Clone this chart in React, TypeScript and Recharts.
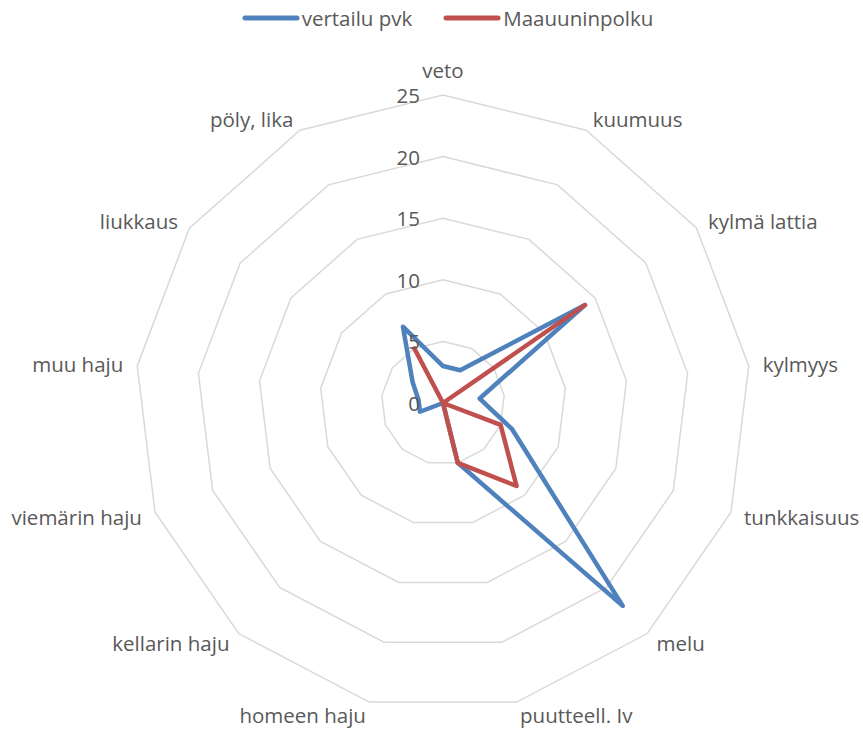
import {
  Legend,
  PolarAngleAxis,
  PolarGrid,
  PolarRadiusAxis,
  Radar,
  RadarChart,
} from 'recharts'

const categories = [
  'veto',
  'kuumuus',
  'kylmä lattia',
  'kylmyys',
  'tunkkaisuus',
  'melu',
  'puutteell. Iv',
  'homeen haju',
  'kellarin haju',
  'viemärin haju',
  'muu haju',
  'liukkaus',
  'pöly, lika',
]

const vertailuPvk = [3, 3, 14, 3, 6, 22, 5, 0, 0, 2, 2, 3, 7]
const maauuninpolku = [0, 0, 14, 0, 5, 9, 5, 0, 0, 0, 0, 0, 5]

const radiusTicks = [0, 5, 10, 15, 20, 25]

const series = [
  { key: 'vertailu', label: 'vertailu pvk', color: '#4f81bd' },
  { key: 'maauunin', label: 'Maauuninpolku', color: '#c0504d' },
]

const data = categories.map((name, i) => ({
  name,
  vertailu: vertailuPvk[i],
  maauunin: maauuninpolku[i],
}))

const FONT = '"Open Sans", Lato, sans-serif'
const FONT_SIZE = 20.5
const TEXT = '#595959'
const CX = 443
const CY = 403
const R = 308

const AngleTick = (props: any) => {
  const { payload } = props
  const rad = (payload.coordinate * Math.PI) / 180
  const h = Math.cos(rad)
  const v = Math.sin(rad)
  const vx = CX + h * R
  const vy = CY - v * R
  let anchor: 'start' | 'end' | 'middle' = h > 0 ? 'start' : 'end'
  let x = vx + h * 14
  let y = vy - v * 13
  if (Math.abs(h) < 0.01) {
    anchor = 'middle'
    x = vx
    y = vy - 25
  }
  return (
    <text
      x={x}
      y={y}
      textAnchor={anchor}
      dominantBaseline="central"
      fill={TEXT}
      fontSize={FONT_SIZE}
      fontFamily={FONT}
    >
      {payload.value}
    </text>
  )
}

const RadiusTick = (props: any) => {
  const { x, y, payload } = props
  return (
    <text
      x={x - 23}
      y={y}
      textAnchor="end"
      dominantBaseline="central"
      fill={TEXT}
      fontSize={FONT_SIZE}
      fontFamily={FONT}
    >
      {payload.value}
    </text>
  )
}

const LegendContent = () => (
  <div
    style={{
      display: 'flex',
      justifyContent: 'center',
      gap: 31,
      paddingLeft: 32,
      fontFamily: FONT,
      fontSize: FONT_SIZE,
      color: TEXT,
      lineHeight: '26px',
    }}
  >
    {series.map((s) => (
      <div key={s.key} style={{ display: 'flex', alignItems: 'center' }}>
        <svg width={58} height={10} style={{ marginRight: 2 }}>
          <line
            x1={3}
            y1={5}
            x2={55}
            y2={5}
            stroke={s.color}
            strokeWidth={5}
            strokeLinecap="round"
          />
        </svg>
        <span>{s.label}</span>
      </div>
    ))}
  </div>
)

export default function App() {
  return (
    <div
      style={{
        position: 'absolute',
        left: 0,
        top: 0,
        width: 863,
        height: 729,
        background: '#fff',
      }}
    >
      <RadarChart
        width={863}
        height={729}
        data={data}
        cx={CX}
        cy={CY}
        outerRadius={R}
        margin={{ top: 0, right: 0, bottom: 0, left: 0 }}
      >
        <PolarGrid
          gridType="polygon"
          radialLines={false}
          stroke="#d9d9d9"
          strokeWidth={1.5}
        />
        <PolarAngleAxis
          dataKey="name"
          tick={<AngleTick />}
          tickLine={false}
          axisLine={false}
        />
        <PolarRadiusAxis
          angle={90}
          domain={[0, 25]}
          tickCount={radiusTicks.length}
          axisLine={false}
          tick={<RadiusTick />}
        />
        {series.map((s) => (
          <Radar
            key={s.key}
            name={s.label}
            dataKey={s.key}
            stroke={s.color}
            strokeWidth={4.5}
            strokeLinejoin="round"
            fill="none"
            fillOpacity={0}
            dot={false}
            isAnimationActive={false}
          />
        ))}
        <Legend
          verticalAlign="top"
          content={<LegendContent />}
          wrapperStyle={{ top: 5, left: 0, width: 863 }}
        />
      </RadarChart>
    </div>
  )
}
